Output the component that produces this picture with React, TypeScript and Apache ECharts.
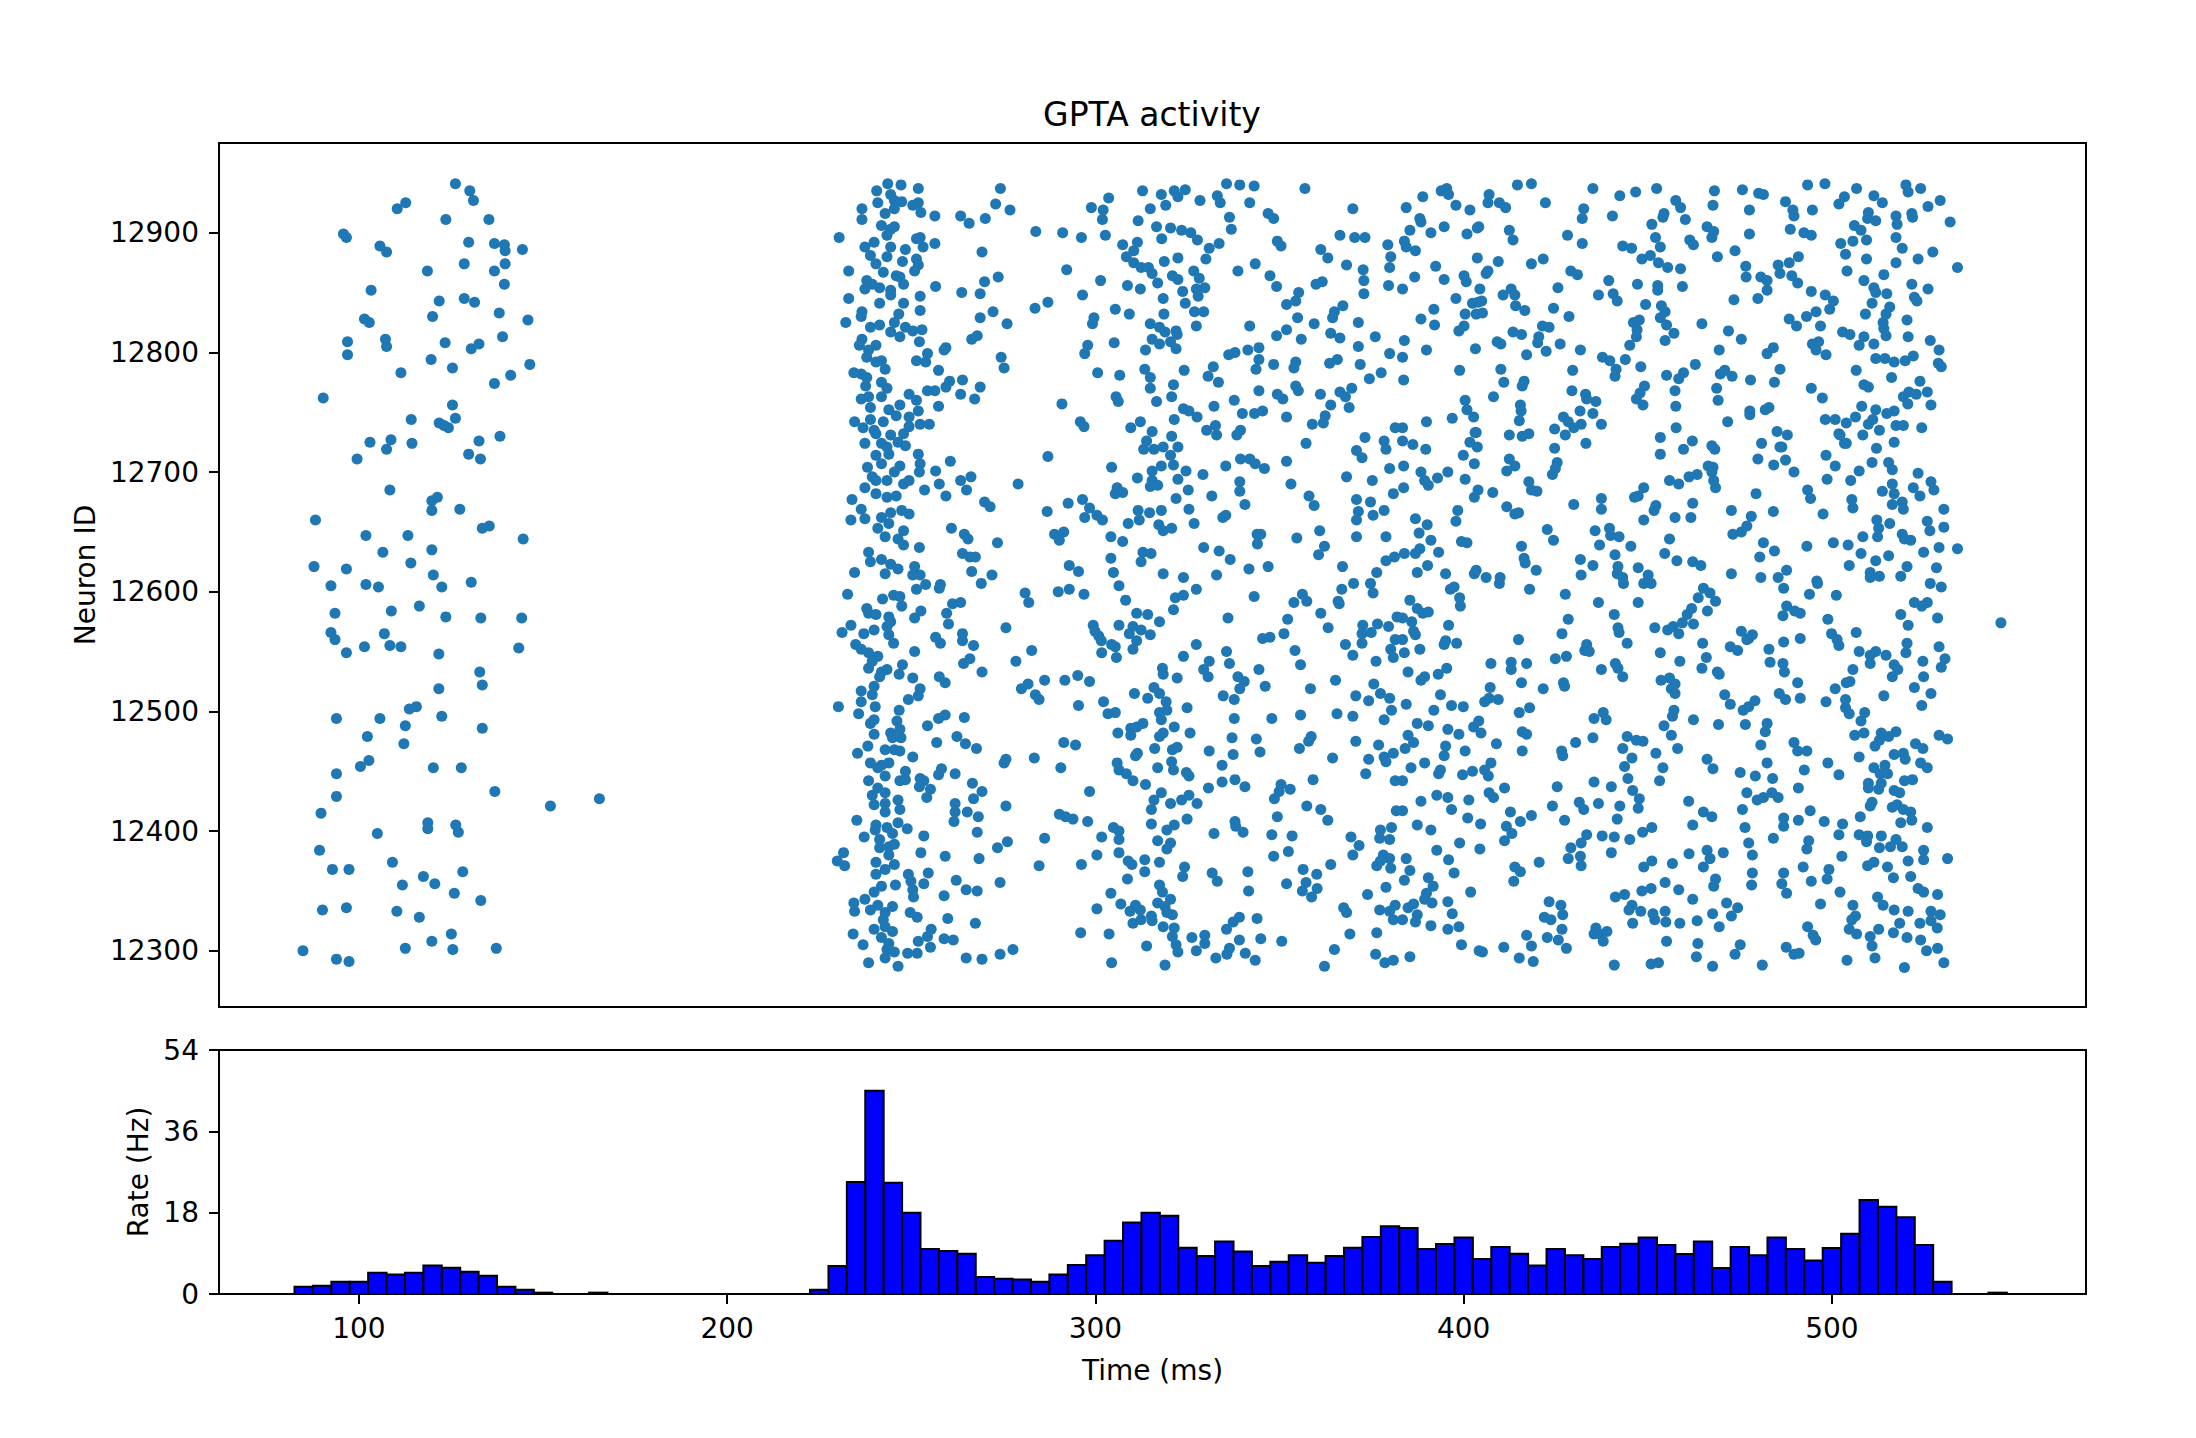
import React, { useEffect, useRef } from 'react';
import * as echarts from 'echarts';

const FONT = 'DejaVu Sans';

// histogram: rate (Hz) per 5 ms bin, first bin starts at 82.5 ms
const binStart = 82.5;
const binWidth = 5;
const rates = [
  1.6, 1.85, 2.7, 2.7, 4.7, 4.3, 4.7, 6.3, 5.8, 4.9, 4.05, 1.6, 0.95, 0.3, 0, 0, 0.3,
  0, 0, 0, 0, 0, 0, 0, 0, 0, 0, 0,
  0.95, 6.2, 24.8, 45.0, 24.6, 18.0, 9.95, 9.5, 8.9, 3.75, 3.4, 3.2, 2.7, 4.3, 6.4, 8.6,
  11.8, 15.8, 18.0, 17.3, 10.25, 8.4, 11.6, 9.4, 6.2, 7.15, 8.6, 6.9, 8.4, 10.25, 12.6,
  15.0, 14.6, 9.95, 11.05, 12.5, 7.75, 10.4, 8.9, 6.3, 9.95, 8.55, 7.75, 10.4, 11.1, 12.5,
  10.85, 8.85, 11.6, 5.75, 10.4, 8.6, 12.5, 9.95, 7.4, 10.2, 13.35, 20.8, 19.3, 17.0,
  10.85, 2.7, 0, 0, 0.3,
];

const neuronTicks = [12300, 12400, 12500, 12600, 12700, 12800, 12900];
const timeTicks = [100, 200, 300, 400, 500];

// spikes as flat [time (ms), neuron id, ...]
const spikesEarly = [
  126.2,12941, 130.1,12935, 131.1,12927, 110.4,12920, 112.7,12925, 123.6,12911, 135.3,12911,
  95.8,12899, 96.6,12896, 105.7,12889, 107.5,12884, 129.8,12892, 136.8,12891, 139.5,12890,
  139.7,12885, 144.4,12886, 128.6,12874, 139.7,12874, 118.6,12868, 136.8,12868, 139.5,12857,
  103.3,12852, 121.8,12843, 128.6,12845, 131.4,12842, 138.1,12833, 101.5,12828, 102.8,12825,
  120.0,12830, 145.9,12827, 107.2,12811, 107.5,12805, 96.9,12809, 96.9,12798, 123.4,12808,
  130.5,12803, 132.6,12807, 139.0,12813, 119.6,12794, 125.4,12787, 146.4,12790, 111.4,12783,
  141.2,12781, 136.8,12774, 90.3,12762, 125.4,12756, 114.2,12744, 121.8,12741, 123.1,12739,
  124.3,12737, 126.2,12745, 103.0,12725, 108.7,12727, 107.5,12719, 114.4,12724, 132.6,12726,
  138.3,12730, 99.5,12711, 129.8,12715, 133.0,12711,
  108.4,12685, 119.8,12676, 121.3,12679, 101.9,12647, 113.3,12647, 119.8,12668, 127.4,12669,
  135.4,12655, 133.5,12653, 88.2,12660, 106.5,12633, 119.8,12635, 114.1,12624, 96.6,12619,
  101.9,12606, 92.4,12605, 105.3,12604, 120.2,12614, 130.5,12608, 122.5,12604, 144.6,12644,
  116.4,12588, 123.6,12579, 108.8,12584, 87.8,12621, 93.5,12582, 92.4,12566, 93.5,12560,
  106.9,12565, 108.4,12555, 111.4,12554, 96.6,12549, 101.5,12554, 133.1,12578, 144.2,12578,
  143.4,12553, 121.7,12548, 132.8,12533, 115.6,12504, 113.7,12502, 121.7,12519, 122.5,12496,
  133.5,12522, 133.5,12486, 93.9,12494, 102.3,12479, 105.7,12494, 112.6,12488, 112.2,12473,
  120.2,12453, 127.8,12453, 93.9,12448, 100.4,12454, 102.7,12459, 93.9,12429, 136.9,12433,
  89.7,12415, 105.0,12398, 89.3,12384, 92.8,12368, 90.1,12334, 97.3,12368, 117.5,12362,
  128.2,12366, 118.7,12407, 118.7,12402, 126.3,12405, 127.0,12399, 109.1,12374, 111.8,12355,
  120.6,12356, 125.9,12348, 133.1,12342, 110.3,12333, 116.4,12328, 119.8,12308, 125.1,12314,
  96.6,12336, 112.6,12302, 125.5,12301, 137.3,12302, 84.8,12300, 93.9,12293, 97.3,12291,
  152.0,12421, 165.3,12427, 545.9,12574,
];

// 225-383 ms, upper half
const spikesA = [
  230.4,12896, 233.0,12868, 233.0,12845, 232.2,12825, 236.6,12920, 236.6,12911, 240.6,12935,
  243.6,12941, 247.2,12940, 251.9,12937, 240.9,12925, 244.4,12932, 245.4,12927, 247.4,12926,
  245.4,12920, 242.9,12916, 250.4,12923, 251.9,12925, 252.6,12917, 256.4,12914, 241.9,12906,
  244.4,12903, 245.4,12905, 243.4,12898, 237.4,12888, 239.9,12892, 244.4,12888, 248.4,12886,
  251.4,12895, 252.4,12896, 253.2,12888, 256.4,12891, 238.9,12881, 243.4,12880, 240.4,12874,
  242.4,12867, 247.6,12876, 251.4,12878, 251.9,12873, 250.9,12868, 245.9,12864, 246.9,12863,
  247.9,12857, 237.9,12860, 239.4,12857, 241.4,12854, 237.4,12853, 244.4,12852, 244.4,12848,
  252.4,12847, 256.6,12855, 247.9,12841, 241.4,12841, 236.6,12834, 236.4,12830, 246.6,12832,
  252.4,12835, 245.4,12825, 238.9,12821, 241.4,12823, 248.4,12821, 250.4,12818, 252.9,12819,
  244.4,12817, 246.9,12813, 236.6,12811, 235.9,12806, 240.4,12806, 238.4,12802, 237.9,12796,
  252.2,12809, 254.4,12799, 253.9,12792, 251.4,12793, 258.9,12802, 259.4,12804, 234.4,12783,
  236.4,12782, 240.4,12792, 241.9,12793, 242.9,12786, 237.9,12779, 257.4,12785, 241.9,12775,
  243.4,12770, 237.6,12772, 249.4,12765, 251.4,12760, 254.4,12768, 256.4,12768, 259.4,12771,
  260.4,12776, 236.4,12761, 238.4,12763, 238.9,12754, 241.9,12763, 243.9,12752, 246.9,12756,
  245.9,12747, 249.4,12746, 251.9,12751, 257.4,12755, 234.6,12742, 236.9,12737, 238.9,12744,
  242.4,12742, 239.9,12735, 240.4,12732, 244.4,12731, 247.9,12732, 249.4,12738, 252.4,12740,
  254.9,12740, 237.4,12724, 241.9,12724, 243.4,12721, 246.4,12725, 248.4,12722, 251.9,12715,
  240.4,12714, 243.9,12715, 241.9,12707, 246.9,12705, 252.4,12707, 238.1,12704, 245.4,12700,
  252.2,12700, 239.4,12696, 240.4,12693, 243.4,12693, 247.9,12690, 249.4,12693, 237.4,12687,
  240.4,12682, 243.4,12679, 245.9,12680, 256.6,12701, 257.6,12690, 253.6,12685, 259.4,12680,
  260.6,12709, 233.9,12677, 236.4,12669, 233.6,12660, 237.4,12661, 241.9,12662, 244.4,12666,
  247.4,12668, 249.4,12665, 240.9,12653, 243.9,12657, 247.9,12651, 242.9,12646, 246.4,12644,
  247.9,12639, 252.2,12637, 238.4,12633, 238.9,12625, 241.9,12627, 244.4,12623, 246.4,12619,
  250.9,12621, 242.9,12615, 234.6,12616, 250.4,12614, 252.4,12614,
  263.4,12914, 265.7,12908, 270.1,12912, 272.9,12924, 274.2,12937, 276.8,12919, 269.2,12884,
  273.6,12863, 269.9,12859, 263.7,12850, 268.7,12849, 272.2,12834, 268.7,12829, 276.0,12824,
  266.4,12811, 267.9,12814, 274.4,12796, 275.2,12787, 263.9,12777, 268.7,12771, 263.4,12765,
  267.2,12761, 279.0,12690, 263.4,12693, 266.2,12696, 265.0,12685, 269.9,12675, 271.4,12671,
  260.9,12653, 264.4,12648, 265.4,12644, 273.4,12641, 263.9,12632, 265.9,12629, 267.4,12629,
  266.4,12617, 271.9,12614,
  283.8,12901, 291.1,12900, 296.2,12896, 292.2,12869, 283.6,12837, 287.1,12842, 296.5,12848,
  301.4,12860, 298.9,12921, 302.1,12919, 301.9,12911, 303.6,12929, 302.7,12898, 299.6,12829,
  299.2,12824, 297.9,12806, 297.1,12799, 300.6,12783, 290.9,12757, 295.9,12742, 296.9,12738,
  287.1,12713, 286.9,12667, 292.6,12674, 296.5,12677, 298.4,12670, 297.1,12662, 300.4,12664,
  301.9,12660, 288.9,12648, 291.4,12650, 290.2,12643, 292.9,12622, 295.4,12617,
  307.4,12890, 308.4,12880, 310.4,12885, 311.4,12892, 310.4,12875, 312.4,12871, 314.4,12871,
  315.4,12866, 316.9,12858, 308.7,12856, 312.2,12853, 311.6,12910, 312.8,12935, 314.9,12920,
  317.9,12932, 319.1,12923, 321.4,12935, 322.4,12930, 324.4,12936, 328.4,12927, 316.6,12905,
  318.0,12895, 320.4,12904, 323.4,12902, 325.9,12900, 327.7,12894, 330.9,12887, 333.6,12891,
  330.0,12878, 322.4,12879, 318.7,12876, 320.9,12864, 322.4,12861, 326.7,12868, 328.2,12862,
  323.7,12851, 327.4,12853, 329.7,12854, 327.9,12847, 324.4,12841, 318.4,12845, 305.4,12836,
  309.2,12832, 318.6,12832, 326.9,12834, 329.4,12834, 327.4,12822, 314.9,12824, 317.4,12821,
  318.9,12817, 321.9,12818, 322.2,12815, 315.4,12811, 317.4,12807, 320.4,12809, 321.9,12803,
  313.6,12802, 305.1,12808, 306.6,12781, 313.4,12786, 314.9,12779, 324.1,12785, 321.2,12773,
  314.9,12770, 320.7,12763, 316.6,12759, 305.6,12763, 306.2,12759, 312.2,12742, 309.6,12737,
  321.4,12744, 323.9,12753, 325.4,12751, 327.6,12746, 332.2,12755, 315.4,12734, 320.7,12730,
  313.9,12726, 313.1,12719, 315.9,12719, 318.4,12721, 322.4,12721, 320.4,12714, 321.2,12706,
  317.9,12705, 304.4,12704, 315.4,12701, 324.6,12701, 311.4,12695, 315.4,12693, 314.9,12688,
  316.9,12689, 322.4,12694, 325.2,12685, 329.2,12698, 321.9,12678, 325.4,12669, 326.8,12657,
  305.9,12687, 305.4,12682, 307.4,12683, 311.6,12668, 311.9,12660, 314.7,12666, 317.9,12668,
  317.2,12656, 318.4,12651, 320.7,12653, 308.9,12657, 304.2,12646, 307.4,12642, 329.4,12637,
  312.9,12633, 315.1,12632, 312.4,12625, 304.2,12628, 304.9,12616, 318.4,12615, 323.9,12612,
  330.2,12735, 332.9,12731, 332.6,12739, 332.0,12788, 330.6,12780, 333.4,12775, 331.6,12680,
  332.9,12614, 333.6,12634, 336.6,12627,
  335.6,12941, 339.2,12940, 343.1,12939, 341.9,12925, 336.4,12913, 336.9,12903, 333.1,12931,
  333.9,12925, 346.9,12916, 348.4,12912, 349.4,12893, 350.4,12889, 338.7,12868, 343.4,12874,
  347.4,12864, 349.2,12855, 351.9,12840, 354.4,12843, 355.2,12850, 354.9,12829, 351.9,12819,
  349.2,12814, 355.9,12811, 359.4,12824, 341.9,12822, 336.2,12798, 337.9,12800, 341.4,12802,
  344.4,12804, 344.4,12794, 343.6,12786, 348.4,12790, 354.4,12792, 353.9,12787, 337.7,12760,
  339.9,12749, 343.2,12749, 345.4,12751, 344.4,12768, 349.4,12765, 350.9,12761, 354.4,12772,
  355.1,12768, 351.9,12746, 339.4,12735, 338.4,12731, 335.4,12705, 339.4,12711, 341.9,12711,
  343.4,12707, 345.9,12703, 351.9,12709, 339.2,12692, 339.2,12684, 340.6,12673, 335.4,12664,
  334.6,12662, 353.1,12690, 358.0,12680, 359.4,12672, 358.9,12740, 357.2,12724, 343.9,12648,
  344.9,12648, 344.0,12640, 341.7,12619, 346.9,12621, 354.7,12645, 356.9,12937, 361.2,12886,
  363.1,12879, 359.9,12857, 361.6,12859,
  366.4,12898, 370.4,12896, 373.2,12896, 369.9,12920, 368.2,12873, 372.7,12869, 372.9,12860,
  372.9,12849, 379.4,12890, 380.2,12880, 379.9,12871, 379.6,12856, 364.9,12834, 367.2,12839,
  364.4,12829, 371.4,12825, 363.9,12816, 366.4,12812, 371.4,12805, 376.0,12813, 379.9,12799,
  371.9,12790, 365.7,12794, 363.6,12791, 374.4,12778, 377.6,12783, 369.6,12770, 366.4,12767,
  367.9,12763, 368.9,12754, 363.9,12756, 361.1,12765, 362.4,12747, 361.9,12741, 373.2,12729,
  378.4,12726, 381.4,12737, 370.9,12718, 372.4,12712, 378.9,12719, 368.2,12696, 375.2,12693,
  379.9,12703, 370.9,12677, 374.7,12675, 371.4,12667, 370.9,12660, 375.4,12664, 378.4,12668,
  360.9,12651, 362.2,12638, 360.6,12631, 370.9,12646, 378.9,12646, 367.1,12621, 376.4,12616,
  378.9,12626, 381.2,12629, 380.9,12682,
];

// 383-540 ms, upper half
const spikesB = [
  384.4,12921, 388.9,12930, 393.9,12935, 395.4,12937, 395.9,12932, 397.9,12923, 401.7,12919,
  388.1,12912, 388.4,12909, 385.4,12902, 391.1,12900, 394.7,12905, 383.9,12893, 384.4,12888,
  386.9,12885, 400.9,12899, 392.4,12872, 386.7,12863, 394.7,12861, 383.4,12853, 400.1,12864,
  400.7,12859, 397.9,12845, 391.9,12836, 388.4,12828, 392.1,12823, 402.4,12841, 400.4,12832,
  383.9,12810, 389.9,12802, 398.7,12818, 400.1,12822, 383.4,12796, 383.7,12777, 398.9,12785,
  400.4,12760, 400.9,12752, 402.7,12746, 389.9,12742, 396.9,12745, 383.4,12737, 383.4,12726,
  386.2,12723, 389.7,12719, 399.9,12714, 401.7,12725, 403.4,12733, 402.9,12707, 383.7,12705,
  388.4,12700, 389.4,12693, 390.4,12689, 392.9,12695, 395.7,12700, 400.4,12694, 383.7,12687,
  386.9,12661, 390.1,12656, 387.9,12649, 391.1,12643, 383.9,12632, 386.9,12632, 388.1,12636,
  393.2,12633, 398.4,12668, 397.9,12659, 399.4,12642, 400.9,12641, 387.4,12616, 390.2,12622,
  395.1,12615, 402.9,12615,
  406.9,12932, 406.6,12925, 409.7,12925, 411.4,12921, 404.1,12905, 403.7,12904, 412.4,12902,
  413.4,12894, 414.6,12940, 418.4,12941, 422.2,12925, 403.7,12879, 409.4,12876, 406.6,12868,
  406.1,12866, 418.4,12874, 421.6,12878, 404.4,12853, 403.9,12842, 404.9,12843, 403.4,12832,
  405.1,12833, 410.7,12848, 412.9,12853, 413.9,12848, 414.1,12839, 416.6,12835, 413.4,12817,
  415.7,12815, 421.4,12822, 423.2,12821, 420.4,12813, 420.1,12808, 422.4,12801, 417.1,12798,
  409.1,12809, 410.1,12807, 403.2,12803, 410.1,12786, 410.9,12775, 416.4,12776, 415.9,12772,
  408.1,12763, 415.4,12756, 415.6,12751, 415.1,12743, 412.4,12731, 415.9,12730, 417.7,12732,
  403.1,12733, 403.7,12721, 412.4,12711, 413.9,12705, 411.7,12701, 417.7,12692, 418.4,12685,
  419.9,12684, 403.9,12685, 402.9,12679, 407.9,12683, 411.7,12671, 413.9,12665, 414.9,12666,
  422.7,12652, 424.4,12643, 415.7,12638, 416.4,12628, 416.7,12624, 419.7,12618, 403.4,12618,
  406.1,12612, 409.9,12612,
  428.2,12898, 432.2,12891, 432.6,12920, 432.2,12912, 435.1,12937, 440.4,12914, 442.4,12931,
  425.6,12854, 429.1,12868, 430.9,12865, 424.4,12837, 428.6,12830, 436.6,12848, 439.4,12860,
  440.6,12849, 441.7,12843, 431.7,12802, 426.2,12807, 429.6,12785, 437.7,12796, 439.7,12793,
  441.4,12786, 441.1,12780, 429.4,12768, 433.1,12765, 433.4,12761, 435.9,12759, 431.6,12751,
  435.1,12749, 437.4,12740, 427.1,12746, 428.4,12742, 431.9,12740, 429.9,12737, 424.7,12736,
  427.6,12731, 433.2,12724, 424.7,12720, 425.4,12708, 424.9,12703, 424.1,12698, 437.4,12678,
  437.4,12669, 429.9,12673, 435.7,12651, 439.6,12653, 439.9,12647, 442.2,12646, 436.9,12639,
  441.1,12631, 431.7,12627, 435.1,12622, 441.9,12621, 441.7,12615, 431.9,12614, 443.2,12612,
  446.7,12934, 452.4,12937, 457.6,12927, 458.9,12921, 454.4,12916, 454.1,12913, 460.2,12911,
  451.1,12907, 452.1,12896, 453.4,12888, 443.2,12889, 445.6,12887, 448.4,12878, 450.7,12881,
  452.9,12875, 455.4,12871, 458.9,12870, 461.4,12894, 462.4,12890, 447.2,12857, 452.7,12856,
  452.7,12852, 459.4,12855, 449.4,12840, 453.7,12839, 454.7,12834, 453.4,12829, 455.1,12823,
  457.1,12816, 454.7,12810, 446.1,12825, 447.7,12827, 447.1,12819, 446.9,12813, 445.1,12806,
  443.9,12794, 448.1,12788, 455.1,12781, 458.4,12778, 459.7,12783, 462.9,12790, 449.1,12772,
  447.9,12766, 446.9,12761, 448.7,12756, 457.4,12768, 457.6,12755, 457.7,12737, 453.4,12729,
  453.4,12715, 459.7,12719, 462.1,12726, 455.9,12693, 458.4,12690, 461.2,12696, 463.4,12698,
  448.9,12687, 446.4,12679, 447.4,12680, 452.2,12672, 451.7,12668, 448.9,12660, 457.4,12662,
  462.2,12674, 461.7,12662, 455.9,12644, 454.6,12632, 457.9,12626, 445.4,12638, 447.4,12620,
  450.1,12614, 462.2,12625, 464.4,12622,
  468.1,12935, 467.7,12923, 466.1,12905, 467.9,12901, 467.4,12896, 475.7,12936, 480.1,12933,
  481.4,12932, 477.6,12919, 477.6,12899, 468.9,12880, 473.7,12885, 476.6,12872, 476.7,12863,
  480.7,12863, 482.4,12860, 482.4,12852, 479.9,12845, 473.4,12844, 464.7,12824, 471.9,12818,
  475.4,12811, 469.4,12802, 482.4,12799, 484.1,12804, 469.7,12782, 470.9,12785, 472.9,12780,
  477.9,12777, 484.4,12775, 485.9,12786, 468.7,12770, 469.1,12760, 471.7,12742, 477.7,12748,
  477.7,12751, 481.9,12752, 482.9,12754, 467.4,12722, 468.2,12719, 480.9,12724, 479.9,12711,
  484.2,12706, 485.1,12734, 486.4,12721, 487.9,12731, 466.4,12705, 467.7,12704, 467.4,12700,
  467.9,12693, 468.4,12687, 479.4,12682, 472.7,12668, 478.1,12663, 476.9,12655, 475.4,12650,
  473.1,12648, 484.1,12667, 481.4,12641, 480.4,12629, 484.4,12634, 472.7,12615, 480.7,12612,
  485.4,12612,
  487.4,12926, 489.4,12919, 489.7,12914, 488.7,12903, 492.4,12900, 494.4,12898, 494.7,12919,
  493.4,12940, 498.1,12941, 501.9,12924, 503.4,12930, 502.4,12891, 503.7,12882, 485.4,12873,
  485.9,12866, 488.4,12875, 490.9,12880, 489.1,12864, 490.7,12858, 494.4,12851, 498.2,12848,
  500.4,12843, 499.4,12836, 495.7,12834, 493.1,12830, 488.4,12828, 490.4,12822, 496.9,12822,
  494.7,12807, 496.4,12809, 495.7,12802, 498.4,12798, 502.9,12817, 504.9,12815, 494.4,12770,
  497.4,12762, 498.2,12744, 500.9,12744, 501.9,12732, 503.4,12724, 498.4,12714, 500.9,12705,
  489.7,12700, 487.4,12710, 485.9,12721, 498.7,12694, 493.4,12685, 494.2,12678, 497.6,12665,
  500.4,12641, 493.2,12638, 487.7,12618, 495.9,12609,
  506.7,12937, 511.4,12931, 513.7,12925, 509.9,12917, 509.7,12912, 511.9,12910, 506.1,12906,
  507.9,12902, 509.4,12894, 505.7,12893, 504.1,12868, 509.4,12878, 508.7,12860, 514.1,12865,
  517.4,12875, 517.4,12896, 519.1,12887, 517.4,12914, 517.7,12907, 520.1,12940, 520.7,12934,
  521.7,12916, 521.9,12913, 511.4,12854, 511.9,12850, 510.9,12841, 514.9,12849, 515.7,12838,
  514.7,12832, 509.1,12832, 513.9,12825, 514.1,12820, 514.7,12814, 520.4,12827, 520.7,12813,
  508.7,12813, 507.4,12806, 511.4,12807, 511.9,12795, 514.4,12795, 516.9,12792, 519.9,12793,
  522.1,12797, 506.6,12785, 508.7,12773, 509.9,12771, 516.2,12779, 519.4,12763, 520.9,12767,
  522.9,12765, 520.6,12757, 508.1,12755, 511.9,12752, 514.9,12749, 516.9,12751, 511.1,12744,
  509.9,12740, 512.9,12735, 517.4,12739, 519.4,12739, 503.9,12741, 506.4,12746, 502.2,12731,
  508.4,12731, 503.9,12724, 512.1,12720, 516.9,12725, 510.9,12708, 515.4,12708, 516.4,12702,
  507.4,12701, 505.1,12693, 513.7,12684, 516.4,12690, 516.9,12682, 516.4,12673, 519.1,12675,
  519.4,12669, 522.1,12687, 505.4,12677, 505.7,12670, 512.2,12660, 512.7,12653, 515.7,12657,
  519.1,12648, 519.7,12644, 521.4,12643, 512.4,12646, 508.4,12646, 504.4,12639, 507.9,12632,
  504.7,12622, 510.4,12616, 511.9,12626, 515.4,12630, 520.4,12621, 510.4,12612, 512.9,12613,
  518.7,12613,
  524.1,12937, 529.4,12927, 526.1,12922, 532.1,12909, 523.4,12878, 527.4,12884, 534.1,12871,
  526.1,12853, 521.7,12857, 522.4,12846, 523.1,12843, 526.7,12810, 529.1,12802, 528.9,12791,
  529.7,12788, 523.9,12776, 525.9,12767, 526.9,12756, 524.4,12737, 523.4,12699, 526.9,12692,
  527.7,12685, 523.9,12680, 530.4,12669, 525.9,12659, 526.6,12651, 530.4,12654, 529.1,12637,
  534.1,12636, 524.9,12633, 528.4,12620,
];

// 225-383 ms, lower half
const spikesC = [
  232.7,12598, 242.2,12594, 245.2,12597, 246.9,12596, 247.4,12588, 237.9,12586, 238.4,12582,
  240.4,12581, 243.9,12579, 244.4,12575, 243.4,12571, 243.9,12564, 239.9,12568, 237.1,12565,
  233.6,12572, 231.2,12566, 234.9,12556, 236.4,12552, 238.4,12549, 240.9,12546, 239.4,12542,
  238.4,12536, 241.9,12533, 243.4,12535, 241.4,12529, 245.2,12557, 246.7,12531, 247.6,12539,
  236.4,12517, 239.9,12521, 239.4,12514, 236.4,12508, 240.2,12504, 230.2,12504, 235.7,12498,
  238.9,12490, 239.9,12493, 239.9,12481, 244.4,12482, 246.7,12501, 246.1,12492, 246.9,12485,
  244.9,12478, 247.2,12478, 235.4,12465, 238.2,12471, 242.9,12468, 245.4,12468, 246.9,12467,
  238.9,12457, 240.9,12453, 241.9,12455, 243.9,12457, 242.9,12446, 238.4,12442, 240.9,12436,
  242.9,12432, 239.4,12430, 239.9,12422, 242.9,12423, 242.9,12416, 246.9,12442, 246.4,12426,
  246.9,12418, 235.2,12409, 240.4,12405, 240.2,12401, 243.4,12403, 246.4,12407, 244.9,12398,
  248.9,12402, 237.2,12395, 241.4,12393, 241.4,12386, 243.9,12387, 243.9,12380, 245.4,12389,
  231.6,12382, 229.9,12375, 231.9,12371, 240.4,12374, 245.4,12372, 242.9,12368, 240.4,12364,
  241.9,12354, 239.9,12349, 245.7,12355, 234.4,12340, 234.6,12333, 237.4,12343, 238.9,12334,
  240.9,12338, 242.9,12332, 244.9,12337, 242.4,12326, 242.9,12320, 244.9,12316, 239.9,12318,
  234.2,12314, 236.9,12305, 241.9,12311, 243.9,12306, 243.4,12301, 245.4,12299, 242.9,12294,
  238.4,12290, 246.4,12287,
  248.4,12450, 248.4,12443, 249.2,12364, 249.9,12358, 250.4,12351, 250.6,12345, 249.7,12332,
  251.6,12328, 249.0,12298, 251.6,12298, 251.9,12308, 254.4,12312, 255.4,12318, 255.2,12303,
  252.4,12519, 251.9,12513, 249.2,12510, 250.4,12528, 250.9,12550, 250.9,12578, 252.6,12584,
  251.4,12602, 253.9,12606, 257.9,12606, 257.6,12603, 259.6,12582, 260.1,12573, 261.2,12590,
  263.4,12591, 256.6,12562, 257.9,12557, 263.9,12565, 263.9,12559, 266.9,12555, 264.2,12540,
  265.9,12544, 269.2,12533, 257.6,12529, 259.2,12524, 254.4,12488, 257.4,12494, 259.2,12497,
  264.4,12495, 256.9,12474, 262.4,12479, 264.7,12473, 267.7,12469, 250.4,12462, 252.4,12444,
  253.4,12442, 252.2,12437, 255.2,12435, 254.2,12428, 257.4,12447, 258.2,12452, 261.9,12448,
  261.9,12423, 261.9,12416, 261.6,12408, 265.2,12416, 266.6,12440, 266.9,12427, 269.2,12433,
  268.2,12412, 267.9,12399, 253.4,12396, 252.6,12382, 259.2,12379, 254.6,12365, 253.4,12356,
  262.2,12359, 264.9,12351, 267.9,12350, 258.9,12346, 259.9,12327, 258.9,12310, 261.4,12309,
  267.4,12323, 264.9,12294, 269.2,12293, 268.4,12377,
  269.0,12607, 275.7,12570, 278.4,12542, 282.7,12551, 280.9,12599, 281.9,12591, 279.9,12519,
  281.7,12523, 283.7,12514, 284.7,12510, 286.2,12526, 275.2,12457, 275.7,12460, 283.4,12461,
  275.7,12421, 273.4,12386, 276.1,12391, 274.1,12357, 274.1,12297, 277.6,12301, 284.7,12371,
  286.2,12394,
  289.9,12600, 292.9,12602, 296.9,12598, 291.7,12526, 295.2,12530, 298.4,12525, 295.4,12505,
  299.4,12572, 299.9,12567, 300.9,12563, 301.6,12559, 301.7,12549, 304.4,12556, 305.4,12554,
  305.7,12545, 306.4,12572, 308.2,12593, 306.4,12605, 291.4,12474, 294.6,12472, 290.6,12453,
  298.4,12433, 290.2,12414, 291.9,12412, 293.9,12410, 297.9,12408, 302.2,12508, 303.4,12498,
  305.4,12499, 306.1,12482, 301.7,12395, 304.9,12403, 306.4,12400, 306.4,12393, 300.4,12380,
  306.4,12382, 296.2,12372, 304.2,12348, 300.4,12335, 306.9,12339, 296.0,12315, 303.7,12314,
  304.4,12290,
  311.2,12582, 314.2,12581, 317.4,12575, 314.9,12564, 309.2,12565, 310.2,12571, 312.4,12568,
  311.2,12559, 310.2,12552, 321.2,12585, 321.7,12595, 323.9,12597, 327.4,12602, 322.2,12528,
  318.2,12536, 318.4,12531, 323.9,12546, 327.4,12556, 310.6,12515, 314.2,12511, 315.9,12520,
  317.4,12515, 319.2,12508, 319.4,12501, 317.4,12499, 324.9,12503, 317.9,12493, 318.4,12482,
  317.4,12479, 321.4,12487, 325.7,12482, 309.6,12486, 309.6,12480, 311.2,12487, 312.9,12490,
  316.1,12469, 320.9,12468, 322.2,12470, 310.9,12463, 311.4,12465, 316.9,12453, 320.7,12458,
  321.2,12451, 324.7,12449, 325.4,12446, 305.9,12457, 306.4,12451, 308.4,12448, 310.2,12442,
  313.6,12439, 317.9,12432, 315.9,12426, 315.2,12418, 320.4,12423, 323.4,12426, 325.4,12430,
  327.6,12423, 324.9,12410, 315.2,12406, 319.4,12401, 321.4,12405, 316.9,12392, 320.4,12390,
  319.4,12385, 317.4,12374, 313.4,12376, 313.4,12366, 308.9,12375, 309.9,12372, 308.7,12360,
  324.2,12370, 323.7,12362, 317.4,12355, 318.2,12349, 320.4,12343, 316.9,12340, 318.9,12337,
  319.4,12332, 320.9,12330, 310.9,12338, 309.4,12333, 312.2,12334, 310.2,12323, 312.4,12326,
  315.2,12329, 315.4,12325, 318.4,12320, 321.4,12319, 320.9,12312, 321.9,12305, 322.4,12299,
  313.9,12304, 318.9,12288,
  329.4,12535, 330.9,12542, 330.6,12529, 335.6,12550, 336.4,12540, 336.0,12578, 343.1,12596,
  338.7,12529, 340.4,12525, 339.2,12519, 344.4,12535, 346.1,12521, 334.7,12513, 337.7,12510,
  337.7,12494, 337.1,12478, 337.4,12464, 334.4,12455, 330.9,12467, 330.7,12436, 334.4,12441,
  337.9,12443, 340.6,12437, 343.7,12477, 344.7,12466, 332.2,12398, 337.9,12408, 338.1,12404,
  340.1,12399, 331.7,12365, 333.1,12358, 341.4,12366, 341.6,12350, 343.9,12327, 339.1,12328,
  337.4,12324, 335.6,12318, 339.1,12309, 344.9,12310, 329.7,12313, 329.7,12306, 327.4,12300,
  326.2,12311, 336.4,12302, 335.7,12297, 340.7,12298, 343.4,12292, 332.7,12294, 350.6,12308,
  345.4,12561, 347.4,12562, 351.2,12565, 352.2,12577, 354.2,12551, 355.7,12539, 353.9,12591,
  356.2,12598, 357.4,12592, 361.2,12582, 363.2,12570, 366.9,12602, 365.9,12592, 366.2,12590,
  370.1,12607, 347.9,12494, 355.7,12497, 358.4,12519, 365.2,12526, 365.6,12498, 358.6,12479,
  357.9,12475, 355.4,12469, 364.4,12461, 350.4,12439, 349.9,12433, 352.9,12435, 348.6,12427,
  349.4,12412, 359.1,12443, 357.4,12421, 361.2,12418, 363.1,12409, 347.9,12397, 353.4,12396,
  348.4,12379, 352.4,12383, 356.4,12368, 360.1,12364, 363.9,12372, 357.2,12357, 356.2,12350,
  358.7,12345, 360.2,12352, 351.9,12356, 367.4,12336, 368.2,12332, 364.9,12301, 362.2,12287,
  369.1,12314,
  374.7,12607, 375.4,12599, 372.6,12572, 372.4,12565, 374.9,12566, 376.6,12573, 379.6,12571,
  381.9,12579, 372.4,12557, 367.9,12556, 369.9,12547, 376.2,12542, 380.2,12552, 381.4,12560,
  380.9,12545, 375.6,12523, 377.4,12515, 379.9,12511, 380.4,12501, 370.7,12513, 374.2,12509,
  369.9,12496, 378.4,12493, 370.7,12475, 376.9,12472, 378.4,12462, 378.9,12458, 380.9,12465,
  374.2,12460, 373.4,12448, 381.4,12442, 381.7,12417, 380.4,12403, 377.4,12401, 377.2,12394,
  379.9,12393, 371.6,12388, 369.4,12395, 369.9,12380, 376.4,12371, 378.2,12380, 379.9,12377,
  377.4,12375, 380.2,12369, 378.9,12353, 373.9,12347, 381.4,12338, 377.2,12334, 379.9,12333,
  380.9,12326, 376.4,12315, 376.1,12297, 378.6,12290, 380.9,12292,
];

// 383-540 ms, lower half
const spikesD = [
  385.4,12593, 387.4,12586, 388.9,12582, 390.4,12583, 383.4,12578, 385.9,12575, 386.4,12567,
  386.9,12564, 383.4,12560, 383.9,12549, 388.1,12552, 384.9,12533, 388.4,12526, 389.4,12529,
  393.1,12531, 395.4,12536, 394.7,12556, 395.1,12559, 398.1,12557, 395.9,12572, 398.9,12595,
  399.1,12588, 396.4,12602, 397.4,12604, 393.7,12514, 384.4,12506, 391.9,12501, 396.7,12505,
  399.9,12504, 387.4,12490, 390.4,12488, 384.9,12480, 386.4,12474, 384.1,12469, 395.7,12485,
  398.7,12481, 395.1,12471, 394.7,12463, 400.4,12467, 389.4,12457, 385.7,12453, 393.7,12451,
  393.2,12448, 383.4,12442, 399.7,12447, 402.4,12450, 392.7,12430, 395.7,12428, 396.7,12418,
  388.4,12425, 383.4,12417, 387.4,12405, 391.1,12401, 401.4,12426, 401.1,12411, 398.9,12390,
  392.7,12384, 384.4,12377, 395.9,12376, 397.4,12365, 385.4,12367, 383.9,12359, 390.4,12361,
  391.7,12354, 389.9,12348, 389.4,12343, 391.4,12340, 384.9,12336, 386.4,12339, 383.4,12326,
  387.4,12330, 386.9,12324, 391.1,12321, 395.7,12341, 396.9,12331, 395.7,12318, 398.7,12320,
  401.9,12349, 399.4,12305, 385.4,12295,
  407.4,12540, 407.2,12520, 405.7,12508, 406.9,12511, 409.4,12510, 412.9,12541, 412.9,12535,
  415.7,12524, 417.1,12540, 414.9,12560, 417.9,12602, 409.7,12607, 421.6,12519, 415.1,12499,
  417.9,12503, 404.1,12492, 402.7,12487, 404.7,12482, 408.9,12473, 415.9,12483, 417.1,12481,
  415.9,12467, 405.7,12451, 406.7,12446, 407.4,12457, 406.9,12432, 408.1,12428, 411.1,12436,
  412.7,12416, 415.4,12408, 418.4,12413, 411.6,12404, 413.1,12398, 411.1,12392, 404.6,12406,
  404.4,12385, 413.9,12370, 415.4,12366, 413.6,12358, 420.5,12374, 423.2,12341, 426.4,12338,
  426.9,12330, 421.9,12328, 423.7,12326, 426.7,12318, 425.7,12309, 422.7,12311, 427.9,12302,
  417.1,12313, 418.4,12304, 418.9,12291, 415.1,12294, 410.9,12303, 405.1,12299, 404.2,12300,
  427.6,12598, 428.4,12577, 426.7,12565, 424.9,12544, 427.9,12546, 427.1,12524, 427.4,12521,
  436.6,12591, 440.9,12581, 441.9,12570, 442.2,12566, 444.4,12557, 433.4,12556, 432.9,12551,
  434.1,12550, 437.4,12535, 441.2,12540, 441.9,12536, 443.2,12529, 435.4,12494, 437.9,12499,
  438.7,12493, 430.4,12474, 435.1,12478, 426.6,12467, 426.9,12463, 425.4,12437, 424.1,12421,
  431.4,12424, 432.6,12418, 436.6,12423, 435.4,12441, 440.1,12437, 443.2,12469, 445.7,12461,
  443.7,12454, 444.6,12444, 445.9,12434, 447.7,12427, 447.4,12419, 442.4,12421, 441.7,12410,
  444.4,12479, 446.9,12476, 448.7,12475, 427.4,12409, 433.4,12397, 431.9,12390, 429.1,12386,
  428.4,12377, 431.7,12379, 431.9,12371, 437.6,12396, 440.9,12395, 445.1,12393, 440.1,12382,
  441.2,12345, 443.7,12347, 445.7,12338, 444.9,12334, 448.1,12333, 445.9,12323, 435.9,12319,
  436.9,12314, 438.9,12316, 435.4,12314, 437.9,12308, 440.9,12288,
  443.4,12607, 447.4,12591, 448.9,12607, 450.9,12607, 453.4,12549, 451.9,12570, 455.4,12568,
  456.9,12571, 458.4,12565, 459.4,12574, 460.7,12581, 461.9,12586, 462.4,12573, 458.7,12542,
  453.6,12526, 455.9,12528, 457.4,12523, 456.4,12519, 457.4,12515, 457.1,12501, 456.7,12496,
  454.4,12488, 456.4,12480, 458.1,12469, 452.2,12465, 454.1,12453, 453.2,12442, 461.1,12425,
  465.1,12416, 467.4,12412, 462.2,12405, 448.6,12399, 451.1,12403, 461.2,12381, 456.7,12373,
  448.9,12370, 451.1,12375, 454.7,12357, 458.4,12351, 448.4,12350, 450.9,12352, 462.2,12343,
  454.7,12333, 454.9,12324, 451.9,12326, 451.4,12331, 458.7,12323, 455.1,12308, 463.4,12325,
  463.6,12306, 463.2,12295, 450.9,12289, 452.9,12290,
  465.1,12603, 466.9,12599, 468.4,12592, 463.7,12595, 466.2,12584, 464.9,12557, 465.9,12545,
  464.7,12536, 468.9,12533, 469.4,12531, 472.4,12554, 474.4,12551, 475.4,12567, 477.4,12561,
  478.4,12564, 476.9,12560, 470.9,12514, 472.4,12506, 475.9,12501, 477.4,12504, 479.1,12509,
  469.2,12489, 476.5,12489, 462.4,12493, 466.1,12460, 467.7,12452, 475.1,12449, 479.2,12446,
  476.9,12432, 479.7,12426, 481.4,12428, 483.7,12432, 485.4,12428, 475.7,12418, 476.4,12403,
  477.4,12390, 478.4,12380, 478.4,12365, 478.2,12355, 466.1,12384, 466.9,12377, 470.5,12382,
  465.1,12370, 468.4,12360, 467.9,12354, 471.4,12340, 474.4,12336, 472.7,12329, 467.6,12331,
  469.4,12320, 475.1,12305, 473.7,12297, 467.6,12287, 481.1,12288,
  486.9,12603, 493.9,12598, 496.1,12607, 501.2,12597, 487.7,12588, 489.9,12584, 491.4,12582,
  486.7,12580, 491.4,12561, 486.9,12558, 482.9,12552, 483.2,12541, 486.7,12540, 487.1,12533,
  490.7,12524, 485.7,12515, 487.4,12510, 491.4,12511, 480.7,12472, 482.4,12490, 481.9,12483,
  482.4,12457, 483.9,12444, 489.7,12474, 490.7,12467, 493.2,12467, 490.9,12436, 492.5,12451,
  498.9,12457, 501.9,12447, 494.1,12417, 490.9,12409, 486.9,12411, 486.9,12404, 484.1,12394,
  497.9,12408, 502.9,12406, 501.9,12397, 493.7,12392, 493.2,12385, 502.7,12379, 492.2,12370,
  486.9,12365, 486.4,12356, 487.7,12348, 494.4,12358, 499.2,12368, 498.7,12360, 502.2,12349,
  496.9,12339, 493.4,12320, 494.9,12313, 495.6,12309, 487.6,12303, 489.7,12297, 491.1,12298,
  504.1,12292,
  498.9,12577, 499.9,12565, 501.4,12560, 501.9,12555, 506.6,12566, 507.4,12550, 510.4,12547,
  511.9,12550, 510.4,12540, 514.7,12547, 516.9,12539, 517.9,12535, 516.4,12529, 514.1,12513,
  505.7,12535, 504.9,12525, 503.9,12524, 500.9,12519, 498.4,12508, 503.7,12510, 503.7,12503,
  504.7,12498, 508.9,12499, 507.9,12492, 506.2,12480, 508.7,12482, 507.4,12462, 513.4,12482,
  511.7,12471, 512.9,12476, 515.4,12479, 517.4,12483, 516.9,12464, 519.4,12465, 519.9,12460,
  511.4,12453, 514.4,12455, 513.1,12448, 515.1,12448, 509.9,12440, 509.9,12436, 512.7,12435,
  513.4,12440, 516.9,12434, 518.4,12432, 510.9,12424, 510.4,12421, 516.4,12420, 517.7,12422,
  519.4,12418, 521.4,12416, 521.7,12409, 518.7,12407, 507.7,12412, 507.4,12397, 509.7,12396,
  509.4,12391, 513.4,12396, 512.9,12386, 515.9,12387, 517.4,12393, 519.1,12387, 520.7,12375,
  524.9,12384, 524.9,12376, 511.4,12374, 509.7,12371, 515.1,12370, 516.7,12361, 521.4,12362,
  512.4,12345, 513.9,12338, 516.9,12334, 520.7,12333, 505.7,12338, 506.4,12329, 505.4,12326,
  504.7,12318, 506.7,12314, 512.7,12318, 510.4,12312, 510.9,12304, 511.7,12294, 516.7,12315,
  518.4,12323, 520.4,12311, 523.9,12323, 519.7,12286,
  526.7,12607, 529.7,12604, 524.4,12588, 525.9,12591, 522.4,12591, 528.7,12578, 518.7,12581,
  520.7,12572, 520.4,12557, 520.1,12549, 529.1,12554, 530.7,12544, 529.7,12537, 524.7,12542,
  524.9,12529, 522.4,12520, 526.9,12515, 524.4,12505, 529.1,12480, 531.4,12477, 522.7,12473,
  524.7,12469, 524.1,12457, 525.9,12453, 521.9,12443, 519.7,12442, 525.9,12403, 531.4,12377,
  524.9,12349, 523.4,12352, 528.7,12347, 526.9,12333, 529.4,12330, 526.9,12325, 528.6,12319,
  524.1,12309, 525.7,12300, 528.7,12302, 530.4,12290,
];

const toPairs = (flat: number[]) => {
  const out: number[][] = [];
  for (let i = 0; i + 1 < flat.length; i += 2) out.push([flat[i], flat[i + 1]]);
  return out;
};

const App: React.FC = () => {
  const chartRef = useRef<HTMLDivElement | null>(null);

  useEffect(() => {
    document.body.style.margin = '0';
    if (!chartRef.current) return;
    const chart = echarts.init(chartRef.current, undefined, { renderer: 'svg' });

    const spikes = [
      ...toPairs(spikesEarly),
      ...toPairs(spikesA),
      ...toPairs(spikesB),
      ...toPairs(spikesC),
      ...toPairs(spikesD),
    ];
    const bins = rates.map((r, i) => [binStart + i * binWidth, binStart + (i + 1) * binWidth, r]);

    const labelStyle = { color: '#000', fontSize: 28, fontFamily: FONT };
    const tickStyle = { color: '#000', width: 2 };
    const plain = (v: number) => String(v);

    const option = {
      animation: false,
      backgroundColor: '#fff',
      graphic: [
        {
          type: 'text',
          x: 1152,
          y: 114,
          style: {
            text: 'GPTA activity',
            fontSize: 33,
            fontFamily: FONT,
            fill: '#000',
            textAlign: 'center',
            textVerticalAlign: 'middle',
            align: 'center',
            verticalAlign: 'middle',
          },
        },
      ],
      grid: [
        { left: 219, top: 143, width: 1867, height: 864, show: true, borderColor: '#000', borderWidth: 2, backgroundColor: 'transparent' },
        { left: 219, top: 1050, width: 1867, height: 244, show: true, borderColor: '#000', borderWidth: 2, backgroundColor: 'transparent' },
      ],
      xAxis: [
        {
          type: 'value',
          gridIndex: 0,
          min: 62,
          max: 569,
          axisLine: { show: false },
          axisTick: { show: false },
          axisLabel: { show: false },
          splitLine: { show: false },
        },
        {
          type: 'value',
          gridIndex: 1,
          min: 62,
          max: 569,
          name: 'Time (ms)',
          nameLocation: 'middle',
          nameGap: 62,
          nameTextStyle: { ...labelStyle, verticalAlign: 'top' },
          axisLine: { show: true, onZero: false, lineStyle: tickStyle },
          axisTick: { show: true, length: 10, lineStyle: tickStyle, customValues: timeTicks },
          axisLabel: { ...labelStyle, margin: 20, customValues: timeTicks, formatter: plain },
          splitLine: { show: false },
        },
      ],
      yAxis: [
        {
          type: 'value',
          gridIndex: 0,
          min: 12253,
          max: 12975,
          name: 'Neuron ID',
          nameLocation: 'middle',
          nameGap: 109,
          nameTextStyle: labelStyle,
          axisLine: { show: true, lineStyle: tickStyle },
          axisTick: { show: true, length: 10, lineStyle: tickStyle, customValues: neuronTicks },
          axisLabel: { ...labelStyle, margin: 20, customValues: neuronTicks, formatter: plain },
          splitLine: { show: false },
        },
        {
          type: 'value',
          gridIndex: 1,
          min: 0,
          max: 54,
          interval: 18,
          name: 'Rate (Hz)',
          nameLocation: 'middle',
          nameGap: 66,
          nameTextStyle: labelStyle,
          axisLine: { show: true, lineStyle: tickStyle },
          axisTick: { show: true, length: 10, lineStyle: tickStyle },
          axisLabel: { ...labelStyle, margin: 20, formatter: plain },
          splitLine: { show: false },
        },
      ],
      series: [
        {
          type: 'scatter',
          xAxisIndex: 0,
          yAxisIndex: 0,
          symbol: 'circle',
          symbolSize: 11,
          itemStyle: { color: '#1f77b4', opacity: 1 },
          data: spikes,
        },
        {
          type: 'custom',
          xAxisIndex: 1,
          yAxisIndex: 1,
          encode: { x: [0, 1], y: 2 },
          data: bins,
          renderItem: (_params: any, api: any) => {
            const p0 = api.coord([api.value(0), api.value(2)]);
            const p1 = api.coord([api.value(1), 0]);
            return {
              type: 'rect',
              shape: { x: p0[0], y: p0[1], width: p1[0] - p0[0], height: p1[1] - p0[1] },
              style: { fill: '#0000ff', stroke: '#000', lineWidth: 2 },
            };
          },
        },
      ],
    };

    chart.setOption(option);
    return () => {
      chart.dispose();
    };
  }, []);

  return <div ref={chartRef} style={{ width: '2196px', height: '1438px' }} />;
};

export default App;
